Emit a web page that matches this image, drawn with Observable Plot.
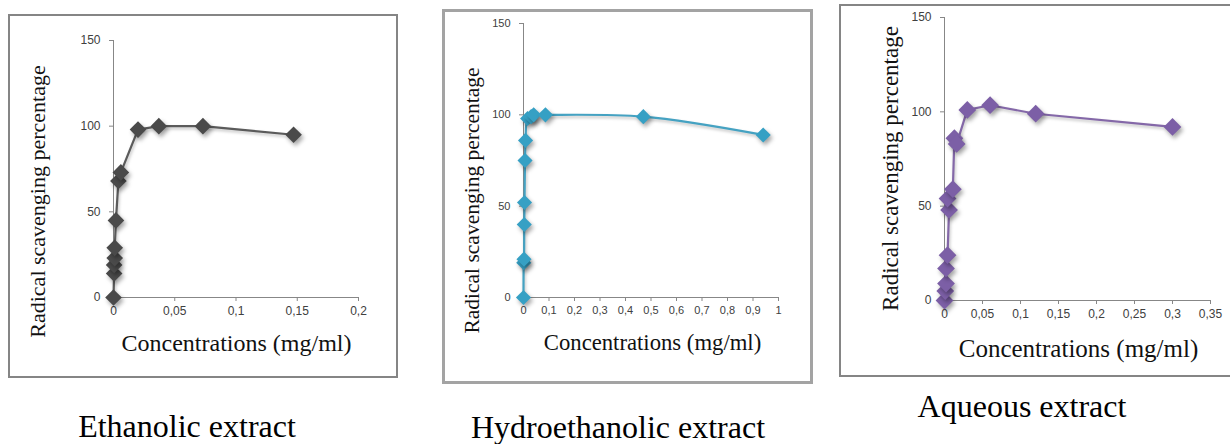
<!DOCTYPE html>
<html><head><meta charset="utf-8">
<script src="https://cdn.jsdelivr.net/npm/d3@7"></script>
<script src="https://cdn.jsdelivr.net/npm/@observablehq/plot@0.6"></script>
<style>
html,body{margin:0;padding:0;background:#fff;}
#root{position:relative;width:1230px;height:444px;overflow:hidden;background:#fff;}
.frame{position:absolute;box-sizing:border-box;pointer-events:none;}
.chart{position:absolute;}
.caption{position:absolute;font-family:"Liberation Serif","Times New Roman",serif;color:#000;white-space:nowrap;transform:translateX(-50%);line-height:1;}
g[aria-label="dot"] path{filter:drop-shadow(2px 3px 2px rgba(0,0,0,0.35));}
g[aria-label="line"] path{filter:drop-shadow(1px 2px 1.5px rgba(0,0,0,0.25));}
</style></head><body><div id="root"></div>
<script>
// ---- data ----
const ethanolicConc = [0, 0.0005, 0.0005, 0.001, 0.001, 0.002, 0.004, 0.006, 0.02, 0.037, 0.073, 0.147];
const ethanolicScav = [0, 14, 19, 23, 29, 45, 68, 73, 98, 100, 100, 95];

const hydroConc = [0, 0.001, 0.002, 0.003, 0.004, 0.006, 0.008, 0.016, 0.03, 0.04, 0.086, 0.47, 0.94];
const hydroScav = [0, 19, 21, 40, 52, 75, 86, 98, 99, 100, 100, 99, 89];

const aqueousConc = [0, 0.001, 0.002, 0.002, 0.004, 0.006, 0.004, 0.011, 0.013, 0.016, 0.03, 0.06, 0.12, 0.3];
const aqueousScav = [0, 5, 9, 17, 24, 48, 54, 59, 86, 83, 101, 103.5, 99, 92];

const yTicks = [0, 50, 100, 150];
const ethanolicXTicks = [0, 0.05, 0.1, 0.15, 0.2];
const hydroXTicks = [0, 0.1, 0.2, 0.3, 0.4, 0.5, 0.6, 0.7, 0.8, 0.9, 1];
const aqueousXTicks = [0, 0.05, 0.1, 0.15, 0.2, 0.25, 0.3, 0.35];

const yTitle = "Radical scavenging percentage";
const xTitle = "Concentrations (mg/ml)";
const captions = ["Ethanolic extract", "Hydroethanolic extract", "Aqueous extract"];

// ---- layout / style ----
const panels = [
  {conc: ethanolicConc, scav: ethanolicScav, xTicks: ethanolicXTicks, xMax: 0.2, caption: captions[0],
   line: "#5b5b5b", marker: "#4a4a4a", curve: "linear", r: 7.5,
   frame: {left: 8, top: 14, width: 390, height: 364, border: "2px solid #858585"},
   axis: {x0: 113, x1: 358, y0: 297, y1: 40}, tickFont: 12,
   yT: {x: 37, y: 201, size: 22}, xT: {x: 236, y: 343, size: 24}, cap: {x: 187, top: 410, size: 32}},
  {conc: hydroConc, scav: hydroScav, xTicks: hydroXTicks, xMax: 1, caption: captions[1],
   line: "#45a2c2", marker: "#36a0c4", curve: "catmull-rom", r: 6.8,
   frame: {left: 442, top: 9, width: 371, height: 375, border: "3px solid #a3a3a3"},
   axis: {x0: 523, x1: 778, y0: 297, y1: 23}, tickFont: 11,
   yT: {x: 472, y: 200, size: 21.5}, xT: {x: 652, y: 342, size: 22.7}, cap: {x: 618, top: 411, size: 32}},
  {conc: aqueousConc, scav: aqueousScav, xTicks: aqueousXTicks, xMax: 0.35, caption: captions[2],
   line: "#8468a8", marker: "#7c5fa6", curve: "linear", r: 8,
   frame: {left: 839, top: 4, width: 400, height: 373, border: "2px solid #858585"},
   axis: {x0: 944, x1: 1210, y0: 300, y1: 17}, tickFont: 12,
   yT: {x: 890, y: 168, size: 23}, xT: {x: 1078, y: 348, size: 25}, cap: {x: 1022, top: 390, size: 32}}
];

const fmt = d => d === 0 ? "0" : String(+d.toFixed(2)).replace(".", ",");
const root = document.getElementById("root");

for (const p of panels) {
  const f = p.frame, a = p.axis;
  const mL = a.x0 - f.left, mR = f.left + f.width - a.x1, mT = a.y1 - f.top, mB = f.top + f.height - a.y0;
  const rows = p.conc.map((c, i) => ({c, s: p.scav[i]}));
  const axisColor = "#878787";
  const chart = Plot.plot({
    width: f.width, height: f.height,
    marginLeft: mL, marginRight: mR, marginTop: mT, marginBottom: mB,
    style: {background: "transparent", overflow: "visible", fontFamily: "'Liberation Sans', Arial, sans-serif", fontSize: p.tickFont + "px", color: "#404040"},
    x: {domain: [0, p.xMax]},
    y: {domain: [0, 150]},
    marks: [
      Plot.ruleX([0], {stroke: axisColor}),
      Plot.ruleY([0], {stroke: axisColor}),
      Plot.axisY({ticks: yTicks, tickSize: 4, tickPadding: 9, stroke: axisColor, fill: "#404040", label: null, tickFormat: fmt, fontSize: p.tickFont}),
      Plot.axisX({ticks: p.xTicks, tickSize: 4, tickPadding: 5, stroke: axisColor, fill: "#404040", label: null, tickFormat: fmt, fontSize: p.tickFont}),
      Plot.line(rows, {x: "c", y: "s", stroke: p.line, strokeWidth: 2.2, curve: p.curve}),
      Plot.dot(rows, {x: "c", y: "s", symbol: "diamond2", r: p.r, fill: p.marker, stroke: "none"}),
      Plot.text([yTitle], {text: d => d, frameAnchor: "top-left", dx: p.yT.x - f.left - mL, dy: p.yT.y - f.top - mT,
        rotate: -90, textAnchor: "middle", lineAnchor: "middle", fontSize: p.yT.size, fontFamily: "'Liberation Serif','Times New Roman',serif", fill: "#111"}),
      Plot.text([xTitle], {text: d => d, frameAnchor: "top-left", dx: p.xT.x - f.left - mL, dy: p.xT.y - f.top - mT,
        textAnchor: "middle", lineAnchor: "middle", fontSize: p.xT.size, fontFamily: "'Liberation Serif','Times New Roman',serif", fill: "#111"})
    ]
  });
  const holder = document.createElement("div");
  holder.className = "chart";
  holder.style.left = f.left + "px"; holder.style.top = f.top + "px";
  holder.style.width = f.width + "px"; holder.style.height = f.height + "px";
  holder.appendChild(chart);
  root.appendChild(holder);
  const fr = document.createElement("div");
  fr.className = "frame";
  fr.style.left = f.left + "px"; fr.style.top = f.top + "px";
  fr.style.width = f.width + "px"; fr.style.height = f.height + "px";
  fr.style.border = f.border;
  root.appendChild(fr);
  const cap = document.createElement("div");
  cap.className = "caption";
  cap.textContent = p.caption;
  cap.style.left = p.cap.x + "px"; cap.style.top = p.cap.top + "px"; cap.style.fontSize = p.cap.size + "px";
  root.appendChild(cap);
}
</script></body></html>
